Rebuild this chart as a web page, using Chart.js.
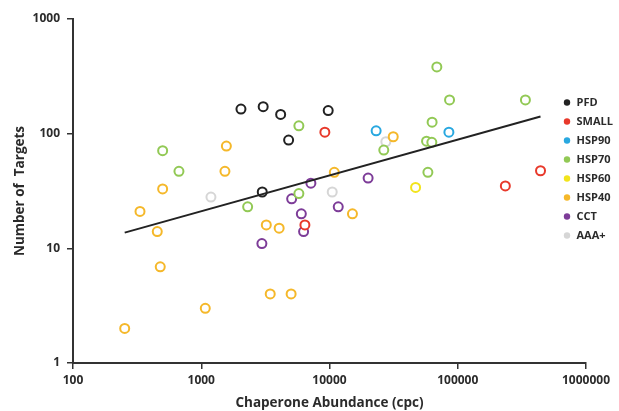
<!DOCTYPE html>
<html>
<head>
<meta charset="utf-8">
<script src="https://cdn.jsdelivr.net/npm/chart.js@4/dist/chart.umd.min.js"></script>
<style>
    body { margin: 0; background: #fff; }
    #wrap { width: 619px; height: 411px; position: relative; }
</style>
</head>
<body>
<div id="wrap"><canvas id="chaperoneChart"></canvas></div>
<script>
// values (x = abundance in cpc, y = number of targets)
const pfdX = [2040, 3040, 4160, 4800, 9770, 2990];
const pfdY = [164, 172, 147, 88, 159, 31];
const smallX = [9200, 6430, 235000, 442000];
const smallY = [103, 16, 35, 47.5];
const hsp90X = [23100, 85300];
const hsp90Y = [106, 103];
const hsp70X = [500, 670, 5770, 5770, 2300, 68700, 86300, 337000, 63100, 57100, 62800, 26500, 58500];
const hsp70Y = [71, 47, 117, 30, 23, 382, 197, 197, 126, 86, 84, 72, 46];
const hsp60X = [46900];
const hsp60Y = [34];
const hsp40X = [1570, 1530, 500, 333, 454, 479, 253, 1075, 3215, 4050, 3450, 5020, 31400, 10900, 15100];
const hsp40Y = [78, 47, 33, 21, 14, 6.9, 2, 3, 16, 15, 4, 4, 94, 46, 20];
const cctX = [7160, 5070, 6030, 6280, 2970, 20000, 11700];
const cctY = [37, 27, 20, 14, 11, 41, 23];
const aaaX = [1190, 10500, 27500];
const aaaY = [28, 31, 85];
const trendX = [253, 442000];
const trendY = [13.7, 141];

const xTicks = [100, 1000, 10000, 100000, 1000000];
const yTicks = [1, 10, 100, 1000];

function toPoints(xs, ys) {
    return xs.map((x, i) => ({ x: x, y: ys[i] }));
}

function series(label, xs, ys, color) {
    return {
        label: label,
        data: toPoints(xs, ys),
        borderColor: color,
        backgroundColor: '#fff',
        borderWidth: 2,
        pointRadius: 4.5,
        pointHoverRadius: 4.5
    };
}

const textColor = '#2b2b2b';
const tickFont = { family: 'Open Sans', weight: 'bold', size: 12 };
const legendFont = { family: 'Open Sans', weight: 'bold', size: 11 };
const titleFont = { family: 'Open Sans', weight: 'bold', size: 13.5 };

// legend sits inside the plot, near the right edge
const moveLegend = {
    id: 'moveLegend',
    afterLayout(chart) {
        const lg = chart.legend;
        const w = lg.right - lg.left;
        lg.left = 555;
        lg.right = lg.left + w;
        lg.top -= 3;
        lg.bottom -= 3;
    }
};

const ctx = document.getElementById('chaperoneChart').getContext('2d');
const chaperoneChart = new Chart(ctx, {
    type: 'scatter',
    data: {
        datasets: [
            {
                label: '',
                data: toPoints(trendX, trendY),
                showLine: true,
                borderColor: '#222',
                borderWidth: 2,
                pointRadius: 0,
                pointHoverRadius: 0
            },
            series('PFD', pfdX, pfdY, '#222222'),
            series('SMALL', smallX, smallY, '#e8392b'),
            series('HSP90', hsp90X, hsp90Y, '#29a8e0'),
            series('HSP70', hsp70X, hsp70Y, '#92c955'),
            series('HSP60', hsp60X, hsp60Y, '#f2e41c'),
            series('HSP40', hsp40X, hsp40Y, '#f5b82a'),
            series('CCT', cctX, cctY, '#7d3c98'),
            series('AAA+', aaaX, aaaY, '#d6d6d6')
        ]
    },
    options: {
        responsive: true,
        maintainAspectRatio: false,
        animation: false,
        devicePixelRatio: 1,
        layout: { padding: { top: 19, right: 33, left: 0, bottom: 0 } },
        plugins: {
            tooltip: { enabled: false },
            legend: {
                position: 'chartArea',
                align: 'center',
                labels: {
                    usePointStyle: true,
                    pointStyle: 'circle',
                    boxWidth: 8,
                    boxHeight: 4.5,
                    padding: 8,
                    color: textColor,
                    font: legendFont,
                    generateLabels: function(chart) {
                        const items = Chart.defaults.plugins.legend.labels.generateLabels(chart);
                        return items.filter(it => it.text).map(it => Object.assign(it, {
                            fillStyle: it.strokeStyle,
                            lineWidth: 0
                        }));
                    }
                }
            }
        },
        scales: {
            x: {
                type: 'logarithmic',
                min: 100,
                max: 1000000,
                afterBuildTicks: axis => { axis.ticks = xTicks.map(v => ({ value: v })); },
                afterFit: axis => { axis.height = 48; },
                border: { display: true, color: '#333', width: 2 },
                grid: { drawOnChartArea: false, tickLength: 6, tickColor: '#333', lineWidth: 1.5 },
                ticks: {
                    autoSkip: false,
                    maxRotation: 0,
                    padding: 4,
                    color: textColor,
                    font: tickFont,
                    callback: v => String(v)
                },
                title: {
                    display: true,
                    text: 'Chaperone Abundance (cpc)',
                    color: textColor,
                    font: titleFont,
                    padding: { top: 0, bottom: 0 }
                }
            },
            y: {
                type: 'logarithmic',
                min: 1,
                max: 1000,
                afterBuildTicks: axis => { axis.ticks = yTicks.map(v => ({ value: v })); },
                afterFit: axis => { axis.width = 73; },
                border: { display: true, color: '#333', width: 2 },
                grid: { drawOnChartArea: false, tickLength: 6, tickColor: '#333', lineWidth: 1.5 },
                ticks: {
                    autoSkip: false,
                    padding: 7,
                    color: textColor,
                    font: tickFont,
                    callback: v => String(v)
                },
                title: {
                    display: true,
                    text: 'Number of  Targets',
                    color: textColor,
                    font: titleFont,
                    padding: { top: 12, bottom: 0 }
                }
            }
        }
    },
    plugins: [moveLegend]
});
</script>
</body>
</html>
